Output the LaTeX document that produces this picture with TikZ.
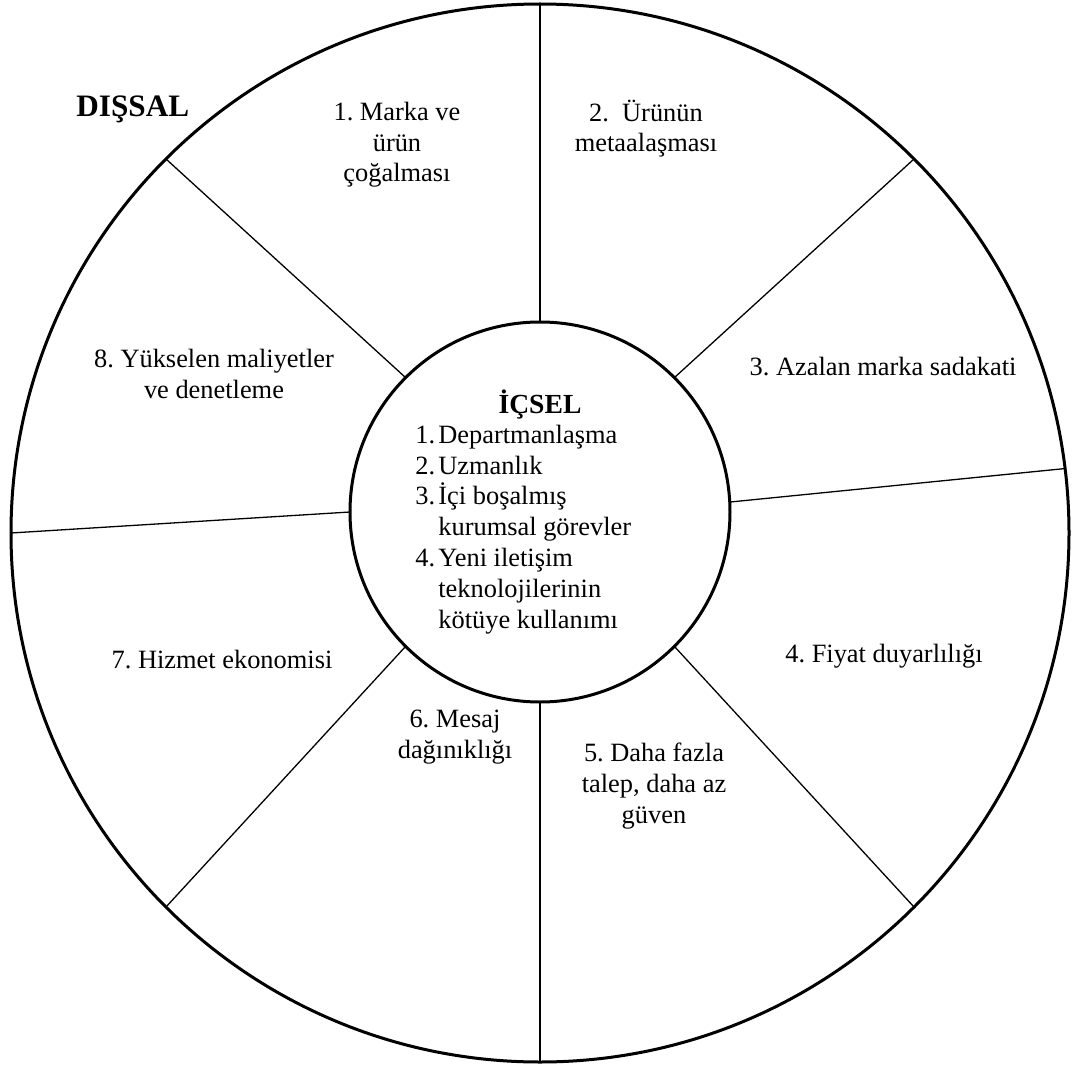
\documentclass[tikz,border=0pt]{standalone}
\usepackage{fontspec}
\setmainfont{Liberation Serif}
\begin{document}
\frenchspacing
\begin{tikzpicture}[x=0.5pt,y=-0.5pt,
  ring/.style={circle,draw,line width=1.5pt,inner sep=0pt,outer sep=0pt},
  spoke/.style={line width=0.65pt},
  lbl/.style={font=\fontsize{13.2}{15.3}\selectfont,align=center,inner sep=0pt,anchor=base},
  head/.style={font=\fontsize{15.6}{18}\selectfont\bfseries,inner sep=0pt,anchor=base},
  num/.style={font=\fontsize{13.2}{15.4}\selectfont,align=left,inner sep=0pt,anchor=base west}]
\useasboundingbox (0,0) rectangle (1072,1065);

% the two rings
\node[ring,minimum size=529pt] (outer) at (540,533) {};
\node[ring,minimum size=190pt] (inner) at (540,512) {};

% spokes between the rings
\draw[spoke] (outer.90)  -- (inner.90);
\draw[spoke] (outer.45)  -- (inner.45);
\draw[spoke] (outer.7)   -- (inner.3);
\draw[spoke] (outer.315) -- (inner.315);
\draw[spoke] (outer.270) -- (inner.270);
\draw[spoke] (outer.225) -- (inner.225);
\draw[spoke] (outer.180) -- (inner.180);
\draw[spoke] (outer.135) -- (inner.135);

% outer heading
\node[head,anchor=base west] (dis) at (76,117) {DIŞSAL};

% outer sectors (node base = baseline of the last line)
\node[lbl] (s1) at (397,182) {1. Marka ve\\ürün\\çoğalması};
\node[lbl] (s2) at (646,152) {2.\ \ Ürünün\\metaalaşması};
\node[lbl] (s3) at (883,375) {3. Azalan marka sadakati};
\node[lbl] (s4) at (884,662) {4. Fiyat duyarlılığı};
\node[lbl] (s5) at (654,823) {5. Daha fazla\\talep, daha az\\güven};
\node[lbl] (s6) at (455,758) {6. Mesaj\\dağınıklığı};
\node[lbl] (s7) at (222,668) {7. Hizmet ekonomisi};
\node[lbl] (s8) at (214,398) {8. Yükselen maliyetler\\ve denetleme};

% inner heading and list
\node[head,font=\fontsize{13.8}{16}\selectfont\bfseries] (ic) at (540,413) {İÇSEL};
\node[num] (list) at (415,628) {%
\makebox[11.5pt][l]{1.}Departmanlaşma\\
\makebox[11.5pt][l]{2.}Uzmanlık\\
\makebox[11.5pt][l]{3.}İçi boşalmış\\
\hspace*{11.5pt}kurumsal görevler\\
\makebox[11.5pt][l]{4.}Yeni iletişim\\
\hspace*{11.5pt}teknolojilerinin\\
\hspace*{11.5pt}kötüye kullanımı};
\end{tikzpicture}
\end{document}
